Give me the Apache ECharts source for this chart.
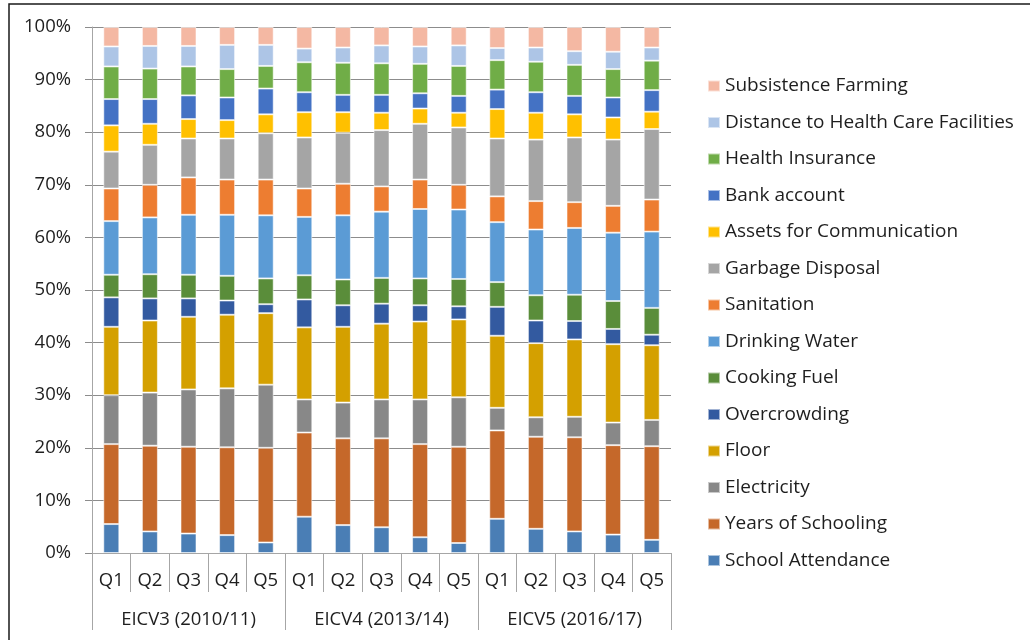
<!DOCTYPE html>
<html>
<head>
<meta charset="utf-8">
<script src="https://cdn.jsdelivr.net/npm/echarts@6/dist/echarts.min.js"></script>
<style>
  html, body { margin: 0; padding: 0; background: #fff; }
  #chart { width: 1030px; height: 640px; }
</style>
</head>
<body>
<div id="chart"></div>
<script>
// Deprivation contribution shares (%) by consumption quintile and survey round
const quintiles = ['Q1', 'Q2', 'Q3', 'Q4', 'Q5',
                   'Q1', 'Q2', 'Q3', 'Q4', 'Q5',
                   'Q1', 'Q2', 'Q3', 'Q4', 'Q5'];
const rounds = ['EICV3 (2010/11)', 'EICV4 (2013/14)', 'EICV5 (2016/17)'];
const yTicks = [0, 10, 20, 30, 40, 50, 60, 70, 80, 90, 100];

const schoolAttendance = [5.5, 4.1, 3.7, 3.4, 2.0, 6.9, 5.3, 4.9, 3.0, 1.9, 6.5, 4.6, 4.1, 3.5, 2.5];
const yearsOfSchooling = [15.2, 16.3, 16.5, 16.7, 18.0, 16.0, 16.5, 16.9, 17.7, 18.3, 16.8, 17.5, 17.9, 17.0, 17.8];
const electricity      = [9.3, 10.1, 10.9, 11.2, 12.0, 6.3, 6.8, 7.4, 8.5, 9.4, 4.3, 3.7, 3.9, 4.3, 5.0];
const floor            = [13.0, 13.7, 13.8, 14.0, 13.6, 13.7, 14.4, 14.4, 14.8, 14.8, 13.7, 14.1, 14.7, 14.9, 14.2];
const overcrowding     = [5.6, 4.2, 3.5, 2.7, 1.7, 5.3, 4.1, 3.8, 3.1, 2.5, 5.5, 4.3, 3.5, 2.9, 2.0];
const cookingFuel      = [4.3, 4.6, 4.5, 4.7, 4.9, 4.6, 4.9, 4.9, 5.1, 5.2, 4.7, 4.8, 5.0, 5.3, 5.1];
const drinkingWater    = [10.2, 10.8, 11.4, 11.6, 12.0, 11.1, 12.2, 12.6, 13.2, 13.2, 11.4, 12.5, 12.7, 13.0, 14.5];
const sanitation       = [6.2, 6.2, 7.1, 6.7, 6.8, 5.4, 6.0, 4.8, 5.6, 4.7, 4.9, 5.4, 4.9, 5.1, 6.1];
const garbageDisposal  = [7.0, 7.6, 7.4, 7.8, 8.8, 9.7, 9.7, 10.7, 10.6, 10.9, 11.0, 11.7, 12.3, 12.6, 13.4];
const assetsComm       = [5.0, 4.0, 3.7, 3.5, 3.6, 4.8, 3.9, 3.3, 2.9, 2.8, 5.6, 5.1, 4.4, 4.2, 3.3];
const bankAccount      = [5.0, 4.7, 4.5, 4.3, 4.9, 3.8, 3.3, 3.4, 2.9, 3.2, 3.7, 3.9, 3.5, 3.8, 4.1];
const healthInsurance  = [6.2, 5.8, 5.5, 5.4, 4.3, 5.7, 6.1, 6.0, 5.6, 5.7, 5.6, 5.8, 5.9, 5.4, 5.6];
const distanceHealth   = [3.8, 4.3, 3.9, 4.6, 4.0, 2.6, 2.9, 3.4, 3.3, 3.9, 2.3, 2.7, 2.6, 3.3, 2.5];
const subsistenceFarm  = [3.7, 3.6, 3.6, 3.4, 3.4, 4.1, 3.9, 3.5, 3.7, 3.5, 4.0, 3.9, 4.6, 4.7, 3.9];

const seriesDefs = [
  ['School Attendance', schoolAttendance, '#4a7eb5'],
  ['Years of Schooling', yearsOfSchooling, '#c5682a'],
  ['Electricity', electricity, '#888888'],
  ['Floor', floor, '#d4a000'],
  ['Overcrowding', overcrowding, '#335aa0'],
  ['Cooking Fuel', cookingFuel, '#5a8d3a'],
  ['Drinking Water', drinkingWater, '#5b9bd5'],
  ['Sanitation', sanitation, '#ed7d31'],
  ['Garbage Disposal', garbageDisposal, '#a5a5a5'],
  ['Assets for Communication', assetsComm, '#ffc000'],
  ['Bank account', bankAccount, '#4472c4'],
  ['Health Insurance', healthInsurance, '#70ad47'],
  ['Distance to Health Care Facilities', distanceHealth, '#adc5e6'],
  ['Subsistence Farming', subsistenceFarm, '#f4b8a3']
];

const FONT = '"Open Sans", "Noto Sans", sans-serif';
const TEXT = '#1e1e1e';
const AXIS_GRAY = '#a6a6a6';

const chart = echarts.init(document.getElementById('chart'), null, { renderer: 'canvas' });

chart.setOption({
  animation: false,
  backgroundColor: '#ffffff',
  textStyle: { fontFamily: FONT },
  graphic: [{
    type: 'rect',
    shape: { x: 9, y: 4, width: 1200, height: 800 },
    style: { fill: 'none', stroke: '#1a1a1a', lineWidth: 1.5 },
    silent: true
  }],
  grid: { left: 92, right: 359, top: 27, bottom: 87, containLabel: false },
  legend: {
    orient: 'vertical',
    left: 707,
    top: 76,
    padding: 0,
    icon: 'rect',
    itemWidth: 12,
    itemHeight: 11,
    itemGap: 16.5,
    selectedMode: false,
    textStyle: { fontFamily: FONT, fontSize: 19, color: TEXT, lineHeight: 20 },
    data: seriesDefs.map(d => d[0]).reverse()
  },
  xAxis: [
    {
      type: 'category',
      data: quintiles,
      position: 'bottom',
      axisLine: { show: true, lineStyle: { color: AXIS_GRAY, width: 1 } },
      axisTick: { show: true, alignWithLabel: false, interval: 0, length: 39, lineStyle: { color: AXIS_GRAY, width: 1 } },
      axisLabel: { interval: 0, margin: 18, fontFamily: FONT, fontSize: 18.5, color: TEXT }
    },
    {
      type: 'category',
      data: rounds,
      position: 'bottom',
      axisLine: { show: false },
      axisTick: { show: true, interval: 0, length: 77, lineStyle: { color: AXIS_GRAY, width: 1 } },
      axisLabel: { interval: 0, margin: 57, fontFamily: FONT, fontSize: 18.5, color: TEXT }
    }
  ],
  yAxis: {
    type: 'value',
    min: yTicks[0],
    max: yTicks[yTicks.length - 1],
    interval: yTicks[1] - yTicks[0],
    axisLine: { show: true, lineStyle: { color: AXIS_GRAY, width: 1 } },
    axisTick: { show: true, length: 7, lineStyle: { color: '#8c8c8c' } },
    splitLine: { show: true, lineStyle: { color: '#8c8c8c', width: 1 } },
    axisLabel: { margin: 21, formatter: '{value}%', fontFamily: FONT, fontSize: 18.5, color: TEXT }
  },
  series: seriesDefs.map(([name, values, color]) => ({
    name,
    type: 'bar',
    stack: 'total',
    xAxisIndex: 0,
    barWidth: 16,
    data: values,
    itemStyle: { color, borderColor: 'rgba(255,255,255,0.55)', borderWidth: 1 }
  }))
});
</script>
</body>
</html>
